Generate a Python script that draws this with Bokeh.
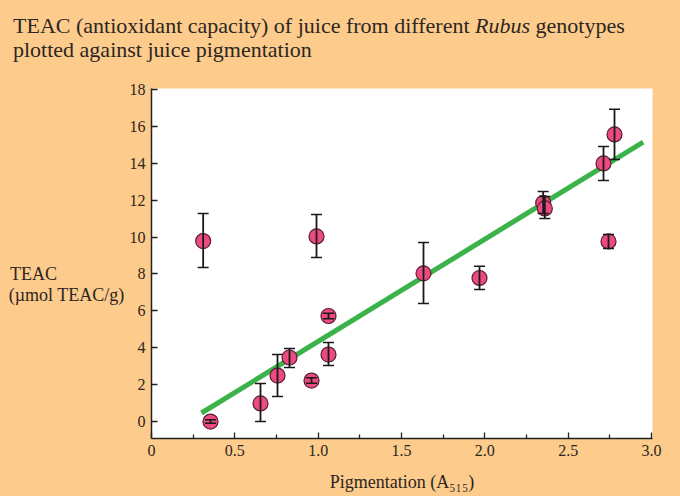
from bokeh.plotting import figure
from bokeh.models import Range1d, Whisker, TeeHead, ColumnDataSource, FixedTicker, Div
from bokeh.layouts import column
from bokeh.embed import file_html
from bokeh.resources import INLINE

# ---- data ----
pigmentation = [0.354, 0.310, 0.654, 0.756, 0.828, 0.960, 0.990, 1.062, 1.062,
                1.632, 1.968, 2.350, 2.360, 2.712, 2.778, 2.742]
teac = [0.0, 9.78, 0.98, 2.49, 3.47, 2.22, 10.03, 5.72, 3.63,
        8.03, 7.78, 11.85, 11.55, 13.99, 15.56, 9.76]
teac_upper = [0.10, 11.28, 2.06, 3.63, 3.96, 2.37, 11.22, 5.87, 4.28,
              9.70, 8.42, 12.47, 12.20, 14.91, 16.92, 10.14]
teac_lower = [-0.10, 8.35, 0.0, 1.36, 2.93, 2.07, 8.89, 5.57, 3.04,
              6.40, 7.16, 11.28, 11.00, 13.07, 14.20, 9.38]

fit_slope = 5.54
fit_intercept = -1.20
fit_x = [0.30, 2.95]
fit_y = [fit_intercept + fit_slope * v for v in fit_x]

x_ticks = [0, 0.5, 1.0, 1.5, 2.0, 2.5, 3.0]
x_tick_labels = ["0", "0.5", "1.0", "1.5", "2.0", "2.5", "3.0"]
x_minor_ticks = [0.25, 0.75, 1.25, 1.75, 2.25, 2.75]
y_ticks = [0, 2, 4, 6, 8, 10, 12, 14, 16, 18]

title_line1_a = "TEAC (antioxidant capacity) of juice from different"
title_line1_i = "Rubus"
title_line1_b = "genotypes"
title_line2 = "plotted against juice pigmentation"
y_label_lines = ["TEAC", "(\u00b5mol TEAC/g)"]
x_label = "Pigmentation (A\u2085\u2081\u2085)"

# ---- style ----
ORANGE = "#FDCB8B"
TEXT = "#2b2622"
FONT = "Liberation Serif"

title_html = (
    f'<div style="font-family:\'{FONT}\',serif;font-size:22px;line-height:24px;'
    f'color:{TEXT};padding:14px 0 0 13px;white-space:nowrap;">'
    f'{title_line1_a} <i>{title_line1_i}</i> {title_line1_b}<br>{title_line2}</div>'
)
title_div = Div(text=title_html, width=680, height=64, margin=(0, 0, 0, 0),
                styles={"background-color": ORANGE})

p = figure(width=680, height=432, output_backend="svg", toolbar_location=None,
           x_range=Range1d(0, 3.006), y_range=Range1d(-0.92, 18.05),
           min_border_left=151, min_border_right=28,
           min_border_top=24, min_border_bottom=58, margin=(0, 0, 0, 0))
p.background_fill_color = "white"
p.border_fill_color = ORANGE
p.outline_line_color = None
p.grid.grid_line_color = None

p.xaxis.ticker = FixedTicker(ticks=x_ticks, minor_ticks=x_minor_ticks)
p.xaxis.major_label_overrides = {t: l for t, l in zip(x_ticks, x_tick_labels)}
p.yaxis.ticker = FixedTicker(ticks=y_ticks)
for ax in (p.xaxis, p.yaxis):
    ax.axis_line_color = "#222222"
    ax.axis_line_width = 1.5
    ax.major_tick_line_color = "#222222"
    ax.major_tick_line_width = 1.3
    ax.minor_tick_line_color = "#222222"
    ax.minor_tick_line_width = 1.3
    ax.major_tick_in = 6
    ax.major_tick_out = 0
    ax.minor_tick_in = 4
    ax.minor_tick_out = 0
    ax.major_label_text_font = FONT
    ax.major_label_text_font_size = "16px"
    ax.major_label_text_color = TEXT
    ax.major_label_standoff = 6
    ax.axis_label_text_font = FONT
    ax.axis_label_text_font_size = "18px"
    ax.axis_label_text_font_style = "normal"
    ax.axis_label_text_color = TEXT

p.xaxis.axis_label = x_label
p.xaxis.axis_label_standoff = 13

# left-aligned two-line label, shifted down by two blank lines (non-breaking spaces)
NB = "\u00a0"
p.yaxis.axis_label = "\n".join([NB, NB, y_label_lines[0] + NB * 15, y_label_lines[1]])
p.yaxis.axis_label_orientation = "horizontal"
p.yaxis.axis_label_standoff = 2
p.yaxis.axis_label_text_line_height = 1.05

p.line(fit_x, fit_y, line_color="#3BB34A", line_width=5)

src = ColumnDataSource(dict(x=pigmentation, y=teac, upper=teac_upper, lower=teac_lower))
p.scatter("x", "y", source=src, size=15, fill_color="#EC4A82",
          line_color="#5a1f30", line_width=1.2)

wh = Whisker(source=src, base="x", upper="upper", lower="lower", dimension="height",
             line_color="#1a1a1a", line_width=1.8,
             upper_head=TeeHead(size=11, line_color="#1a1a1a", line_width=1.5),
             lower_head=TeeHead(size=11, line_color="#1a1a1a", line_width=1.5),
             level="overlay")
p.add_layout(wh)

layout = column(title_div, p, spacing=0, margin=(0, 0, 0, 0),
                styles={"background-color": ORANGE})

open("out.html", "w").write(file_html(layout, INLINE))
